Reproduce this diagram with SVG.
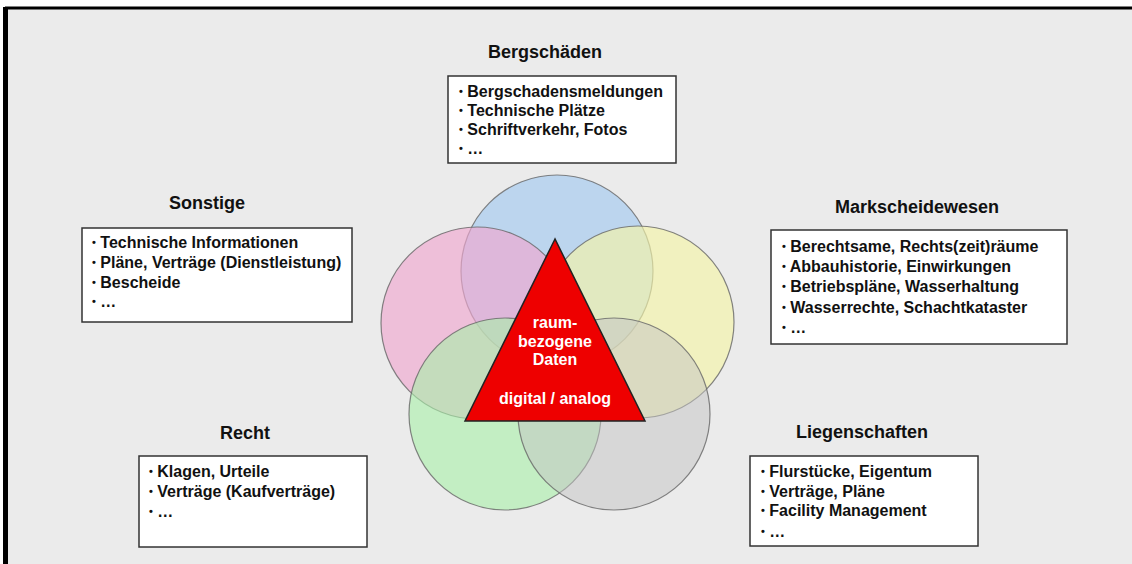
<svg xmlns="http://www.w3.org/2000/svg" width="1132" height="564" viewBox="0 0 1132 564">
<style>
.title{font-family:"Liberation Sans",Arial,sans-serif;font-weight:bold;font-size:18px;fill:#111;text-anchor:middle}
.item{font-family:"Liberation Sans",Arial,sans-serif;font-weight:bold;font-size:16px;fill:#111}
.b{font-size:11px;baseline-shift:2px}
.box{fill:#fff;stroke:#333;stroke-width:1.5}
.c{stroke:#666;stroke-width:1.2;stroke-opacity:0.8}
.tri{font-family:"Liberation Sans",Arial,sans-serif;font-weight:bold;font-size:16px;fill:#fff;text-anchor:middle}
</style>
<rect x="0" y="0" width="1132" height="564" fill="#fff"/>
<rect x="5" y="8" width="1127" height="556" fill="#ebebeb"/>
<line x1="5" y1="8" x2="1132" y2="8" stroke="#000" stroke-width="3"/>
<line x1="5.5" y1="7" x2="5.5" y2="564" stroke="#000" stroke-width="5"/>

<g id="circles">
<circle id="c-blue" class="c" cx="557" cy="271" r="96" fill="#a8ccf0" fill-opacity="0.7"/>
<circle id="c-pink" class="c" cx="477" cy="323" r="96" fill="#f0a8d0" fill-opacity="0.65"/>
<circle id="c-yellow" class="c" cx="638" cy="322" r="96" fill="#f4f4a8" fill-opacity="0.65"/>
<circle id="c-green" class="c" cx="505" cy="414" r="96" fill="#a8f0a8" fill-opacity="0.6"/>
<circle id="c-gray" class="c" cx="614" cy="414" r="96" fill="#c4c4c4" fill-opacity="0.5"/>
</g>

<g id="center">
<polygon points="555,239 465,421 645,421" fill="#ee0000" stroke="#222" stroke-width="1.5"/>
<text class="tri" x="555" y="328">raum-</text>
<text class="tri" x="555" y="347">bezogene</text>
<text class="tri" x="555" y="365">Daten</text>
<text class="tri" x="555" y="404">digital / analog</text>
</g>

<g id="bergschaeden">
<text class="title" x="545" y="58">Bergschäden</text>
<rect class="box" x="448" y="76" width="228" height="87"/>
<text class="item" x="459" y="97"><tspan class="b">•</tspan> Bergschadensmeldungen</text>
<text class="item" x="459" y="116"><tspan class="b">•</tspan> Technische Plätze</text>
<text class="item" x="459" y="135"><tspan class="b">•</tspan> Schriftverkehr, Fotos</text>
<text class="item" x="459" y="154"><tspan class="b">•</tspan>  …</text>
</g>

<g id="sonstige">
<text class="title" x="207" y="209">Sonstige</text>
<rect class="box" x="82" y="228" width="270" height="94"/>
<text class="item" x="92" y="248"><tspan class="b">•</tspan> Technische Informationen</text>
<text class="item" x="92" y="268"><tspan class="b">•</tspan> Pläne, Verträge (Dienstleistung)</text>
<text class="item" x="92" y="288"><tspan class="b">•</tspan> Bescheide</text>
<text class="item" x="92" y="307"><tspan class="b">•</tspan> …</text>
</g>

<g id="markscheidewesen">
<text class="title" x="917" y="213">Markscheidewesen</text>
<rect class="box" x="771" y="230" width="296" height="114"/>
<text class="item" x="782" y="252"><tspan class="b">•</tspan> Berechtsame, Rechts(zeit)räume</text>
<text class="item" x="782" y="272"><tspan class="b">•</tspan> Abbauhistorie, Einwirkungen</text>
<text class="item" x="782" y="292"><tspan class="b">•</tspan> Betriebspläne, Wasserhaltung</text>
<text class="item" x="782" y="313"><tspan class="b">•</tspan> Wasserrechte, Schachtkataster</text>
<text class="item" x="782" y="333"><tspan class="b">•</tspan> …</text>
</g>

<g id="recht">
<text class="title" x="245" y="439">Recht</text>
<rect class="box" x="139" y="456" width="228" height="91"/>
<text class="item" x="149" y="477"><tspan class="b">•</tspan> Klagen, Urteile</text>
<text class="item" x="149" y="497"><tspan class="b">•</tspan> Verträge (Kaufverträge)</text>
<text class="item" x="149" y="517"><tspan class="b">•</tspan> …</text>
</g>

<g id="liegenschaften">
<text class="title" x="862" y="438">Liegenschaften</text>
<rect class="box" x="750" y="456" width="228" height="90"/>
<text class="item" x="761" y="477"><tspan class="b">•</tspan> Flurstücke, Eigentum</text>
<text class="item" x="761" y="497"><tspan class="b">•</tspan> Verträge, Pläne</text>
<text class="item" x="761" y="516"><tspan class="b">•</tspan> Facility Management</text>
<text class="item" x="761" y="537"><tspan class="b">•</tspan> …</text>
</g>
</svg>
